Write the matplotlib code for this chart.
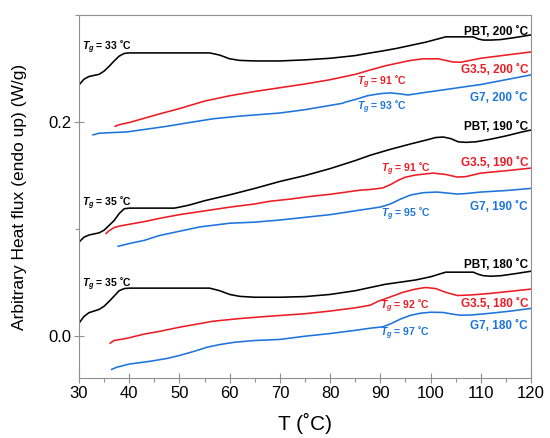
import numpy as np
import matplotlib
matplotlib.use('Agg')
import matplotlib.pyplot as plt
from matplotlib.ticker import MultipleLocator

plt.rcParams['font.family'] = ['Liberation Sans', 'DejaVu Sans']
plt.rcParams['mathtext.fontset'] = 'custom'
plt.rcParams['mathtext.it'] = 'Liberation Sans:bold:italic'
plt.rcParams['mathtext.rm'] = 'Liberation Sans:bold'

RED = '#ec1c24'
BLUE = '#1c74dc'

# PBT, 200 °C
pbt200_x = [30, 31, 32, 33, 34, 35, 36, 37, 38, 39, 40, 56, 58, 60, 62, 65, 70, 75, 80,
            85, 88, 90, 93, 96, 99, 101, 103, 106, 108.5, 109.5, 110.5, 112, 114, 117, 120]
pbt200_y = [0.2346, 0.2400, 0.2425, 0.2435, 0.2445, 0.2475, 0.2520, 0.2570, 0.2615, 0.2640,
            0.2645, 0.2645, 0.2625, 0.2590, 0.2575, 0.2570, 0.2570, 0.2580, 0.2595,
            0.2620, 0.2645, 0.2660, 0.2685, 0.2715, 0.2745, 0.2770, 0.2795, 0.2795,
            0.2795, 0.2775, 0.2765, 0.2765, 0.2770, 0.2790, 0.2813]

# G3.5, 200 °C
g35_200_x = [37.2, 38, 40, 43, 46, 50, 55, 60, 65, 70, 75, 80, 85, 88, 91, 94, 96, 98.5,
             101.5, 103, 104.5, 106, 110, 115, 120]
g35_200_y = [0.1960, 0.1975, 0.1995, 0.2035, 0.2075, 0.2125, 0.2195, 0.2245, 0.2285,
             0.2320, 0.2355, 0.2395, 0.2445, 0.2486, 0.2525, 0.2555, 0.2575, 0.2590,
             0.2590, 0.2575, 0.2560, 0.2558, 0.2595, 0.2625, 0.2654]

# G7, 200 °C
g7_200_x = [32.8, 34, 36, 39.5, 43, 47.5, 52, 56.7, 62, 70, 75, 80, 82.5, 83, 85, 87.4,
            90, 92, 94, 95.5, 98, 104, 110, 115, 120]
g7_200_y = [0.1880, 0.1895, 0.1900, 0.1907, 0.1930, 0.1960, 0.1995, 0.2030, 0.2055,
            0.2084, 0.2115, 0.2155, 0.2175, 0.2185, 0.2210, 0.2245, 0.2265, 0.2272,
            0.2262, 0.2252, 0.2270, 0.2310, 0.2350, 0.2395, 0.2440]

# PBT, 190 °C
pbt190_x = [30, 31, 32, 33, 34, 35, 36, 37, 38, 39, 40, 49, 50, 52, 55, 60, 65, 70, 75,
            80, 85, 88, 92, 96, 99, 101, 102.5, 104, 105.5, 107, 109, 112, 115, 118, 120]
pbt190_y = [0.0878, 0.0925, 0.0945, 0.0955, 0.0965, 0.0990, 0.1035, 0.1080, 0.1145,
            0.1190, 0.1196, 0.1196, 0.1205, 0.1225, 0.1265, 0.1320, 0.1380, 0.1445,
            0.1500, 0.1565, 0.1640, 0.1690, 0.1745, 0.1795, 0.1830, 0.1855, 0.1860,
            0.1845, 0.1815, 0.1810, 0.1815, 0.1840, 0.1870, 0.1905, 0.1925]

# G3.5, 190 °C
g35_190_x = [35.4, 36, 37, 38.2, 40, 43, 46, 50, 55, 60, 65, 68, 72, 76, 80, 86, 88,
             90.5, 92, 93.5, 95, 97, 100.5, 103, 105.3, 107, 110, 115, 120]
g35_190_y = [0.0960, 0.0985, 0.1015, 0.1030, 0.1045, 0.1070, 0.1100, 0.1135, 0.1170,
             0.1205, 0.1235, 0.1260, 0.1280, 0.1305, 0.1325, 0.1364, 0.1370, 0.1385,
             0.1415, 0.1455, 0.1485, 0.1505, 0.1523, 0.1510, 0.1486, 0.1490, 0.1523,
             0.1545, 0.1570]

# G7, 190 °C
g7_190_x = [37.8, 40, 43, 46, 50, 54, 60, 65, 70, 75, 80, 86, 90, 92, 94, 96, 98.5,
            101.3, 103.5, 105.3, 107, 110, 115, 120]
g7_190_y = [0.0840, 0.0865, 0.0895, 0.0940, 0.0980, 0.1020, 0.1055, 0.1065, 0.1085,
            0.1110, 0.1135, 0.1178, 0.1206, 0.1235, 0.1280, 0.1318, 0.1340, 0.1346,
            0.1336, 0.1327, 0.1332, 0.1346, 0.1360, 0.1380]

# PBT, 180 °C
pbt180_x = [30, 31, 32, 33, 34, 35, 36, 37, 38, 39, 40, 56, 58, 60, 62, 65, 70, 75, 80,
            85, 88, 91, 94, 97, 100, 103, 108.5, 109.5, 110.5, 112, 114, 117, 120]
pbt180_y = [0.0121, 0.0185, 0.0220, 0.0235, 0.0250, 0.0280, 0.0325, 0.0375, 0.0425,
            0.0445, 0.0449, 0.0449, 0.0425, 0.0390, 0.0372, 0.0364, 0.0364, 0.0370,
            0.0390, 0.0425, 0.0455, 0.0485, 0.0505, 0.0525, 0.0555, 0.0598, 0.0598,
            0.0578, 0.0565, 0.0560, 0.0565, 0.0585, 0.0607]

# G3.5, 180 °C
g35_180_x = [36.2, 37, 39.5, 43, 46, 50, 56.7, 62, 68, 75, 80, 85, 88, 89.5, 91.3,
             94.5, 97, 99, 101, 103, 105.3, 108, 112, 116, 120]
g35_180_y = [-0.0065, -0.0040, -0.0020, 0.0020, 0.0045, 0.0084, 0.0140, 0.0165, 0.0187,
             0.0210, 0.0235, 0.0265, 0.0290, 0.0325, 0.0355, 0.0410, 0.0440, 0.0455,
             0.0445, 0.0410, 0.0380, 0.0385, 0.0400, 0.0420, 0.0440]

# G7, 180 °C
g7_180_x = [36.5, 37.5, 40, 44, 47.5, 50, 53, 55.5, 58, 61, 65, 70, 75, 80, 85, 88,
            90.5, 92, 94, 96, 98, 100, 102.5, 104.5, 106, 108, 112, 116, 120]
g7_180_y = [-0.0310, -0.0290, -0.0260, -0.0235, -0.0208, -0.0180, -0.0140, -0.0103,
            -0.0078, -0.0056, -0.0040, -0.0030, 0.0000, 0.0025, 0.0055, 0.0075, 0.0088,
            0.0115, 0.0160, 0.0195, 0.0215, 0.0224, 0.0222, 0.0205, 0.0196, 0.0198,
            0.0215, 0.0235, 0.0260]

curves = [
    (pbt200_x, pbt200_y, 'black'), (g35_200_x, g35_200_y, RED), (g7_200_x, g7_200_y, BLUE),
    (pbt190_x, pbt190_y, 'black'), (g35_190_x, g35_190_y, RED), (g7_190_x, g7_190_y, BLUE),
    (pbt180_x, pbt180_y, 'black'), (g35_180_x, g35_180_y, RED), (g7_180_x, g7_180_y, BLUE),
]

# series labels at the right end: text, y baseline, colour
series_labels = [
    ('PBT, 200 ˚C', 0.2813, 'black'), ('G3.5, 200 ˚C', 0.2458, RED), ('G7, 200 ˚C', 0.2196, BLUE),
    ('PBT, 190 ˚C', 0.1925, 'black'), ('G3.5, 190 ˚C', 0.1589, RED), ('G7, 190 ˚C', 0.1178, BLUE),
    ('PBT, 180 ˚C', 0.0636, 'black'), ('G3.5, 180 ˚C', 0.0271, RED), ('G7, 180 ˚C', 0.0065, BLUE),
]

# glass transition labels: value, x, y baseline, colour
tg_labels = [
    (33, 30.6, 0.2673, 'black'), (91, 85.4, 0.2346, RED), (93, 85.4, 0.2112, BLUE),
    (35, 30.6, 0.1215, 'black'), (91, 90.1, 0.1533, RED), (95, 90.1, 0.1110, BLUE),
    (35, 30.6, 0.0458, 'black'), (92, 89.9, 0.0252, RED), (97, 89.9, 0.0000, BLUE),
]

fig = plt.figure(figsize=(5.5, 4.38), dpi=100)
ax = fig.add_axes([0.1436, 0.137, 0.822, 0.829])

for xs, ys, c in curves:
    ax.plot(xs, ys, color=c, lw=1.15)

for txt, yb, c in series_labels:
    ax.text(119.4, yb, txt, color=c, fontsize=8.5, fontweight='bold',
            ha='right', va='baseline')

for val, xt, yb, c in tg_labels:
    ax.text(xt, yb, r'$T_g$' + ' = %d ˚C' % val, color=c, fontsize=7.5,
            fontweight='bold', ha='left', va='baseline')

ax.set_xlim(30, 120)
ax.set_ylim(-0.039, 0.3)
ax.xaxis.set_major_locator(MultipleLocator(10))
ax.xaxis.set_minor_locator(MultipleLocator(5))
ax.yaxis.set_major_locator(MultipleLocator(0.2))
ax.yaxis.set_minor_locator(MultipleLocator(0.1))
ax.yaxis.set_major_formatter(plt.FuncFormatter(lambda v, p: '%.1f' % v))

for sp in ax.spines.values():
    sp.set_color('#909090')
ax.tick_params(which='major', direction='inout', length=7, width=0.8,
               color='#909090', labelsize=12, pad=2)
ax.tick_params(which='minor', direction='out', length=3, width=0.8, color='#909090')

ax.set_xlabel('T (˚C)', fontsize=15, labelpad=9)
ax.set_ylabel('Arbitrary Heat flux (endo up) (W/g)', fontsize=12.5)
ax.yaxis.set_label_coords(-0.115, 0.5)

fig.savefig('out.png', dpi=100)
